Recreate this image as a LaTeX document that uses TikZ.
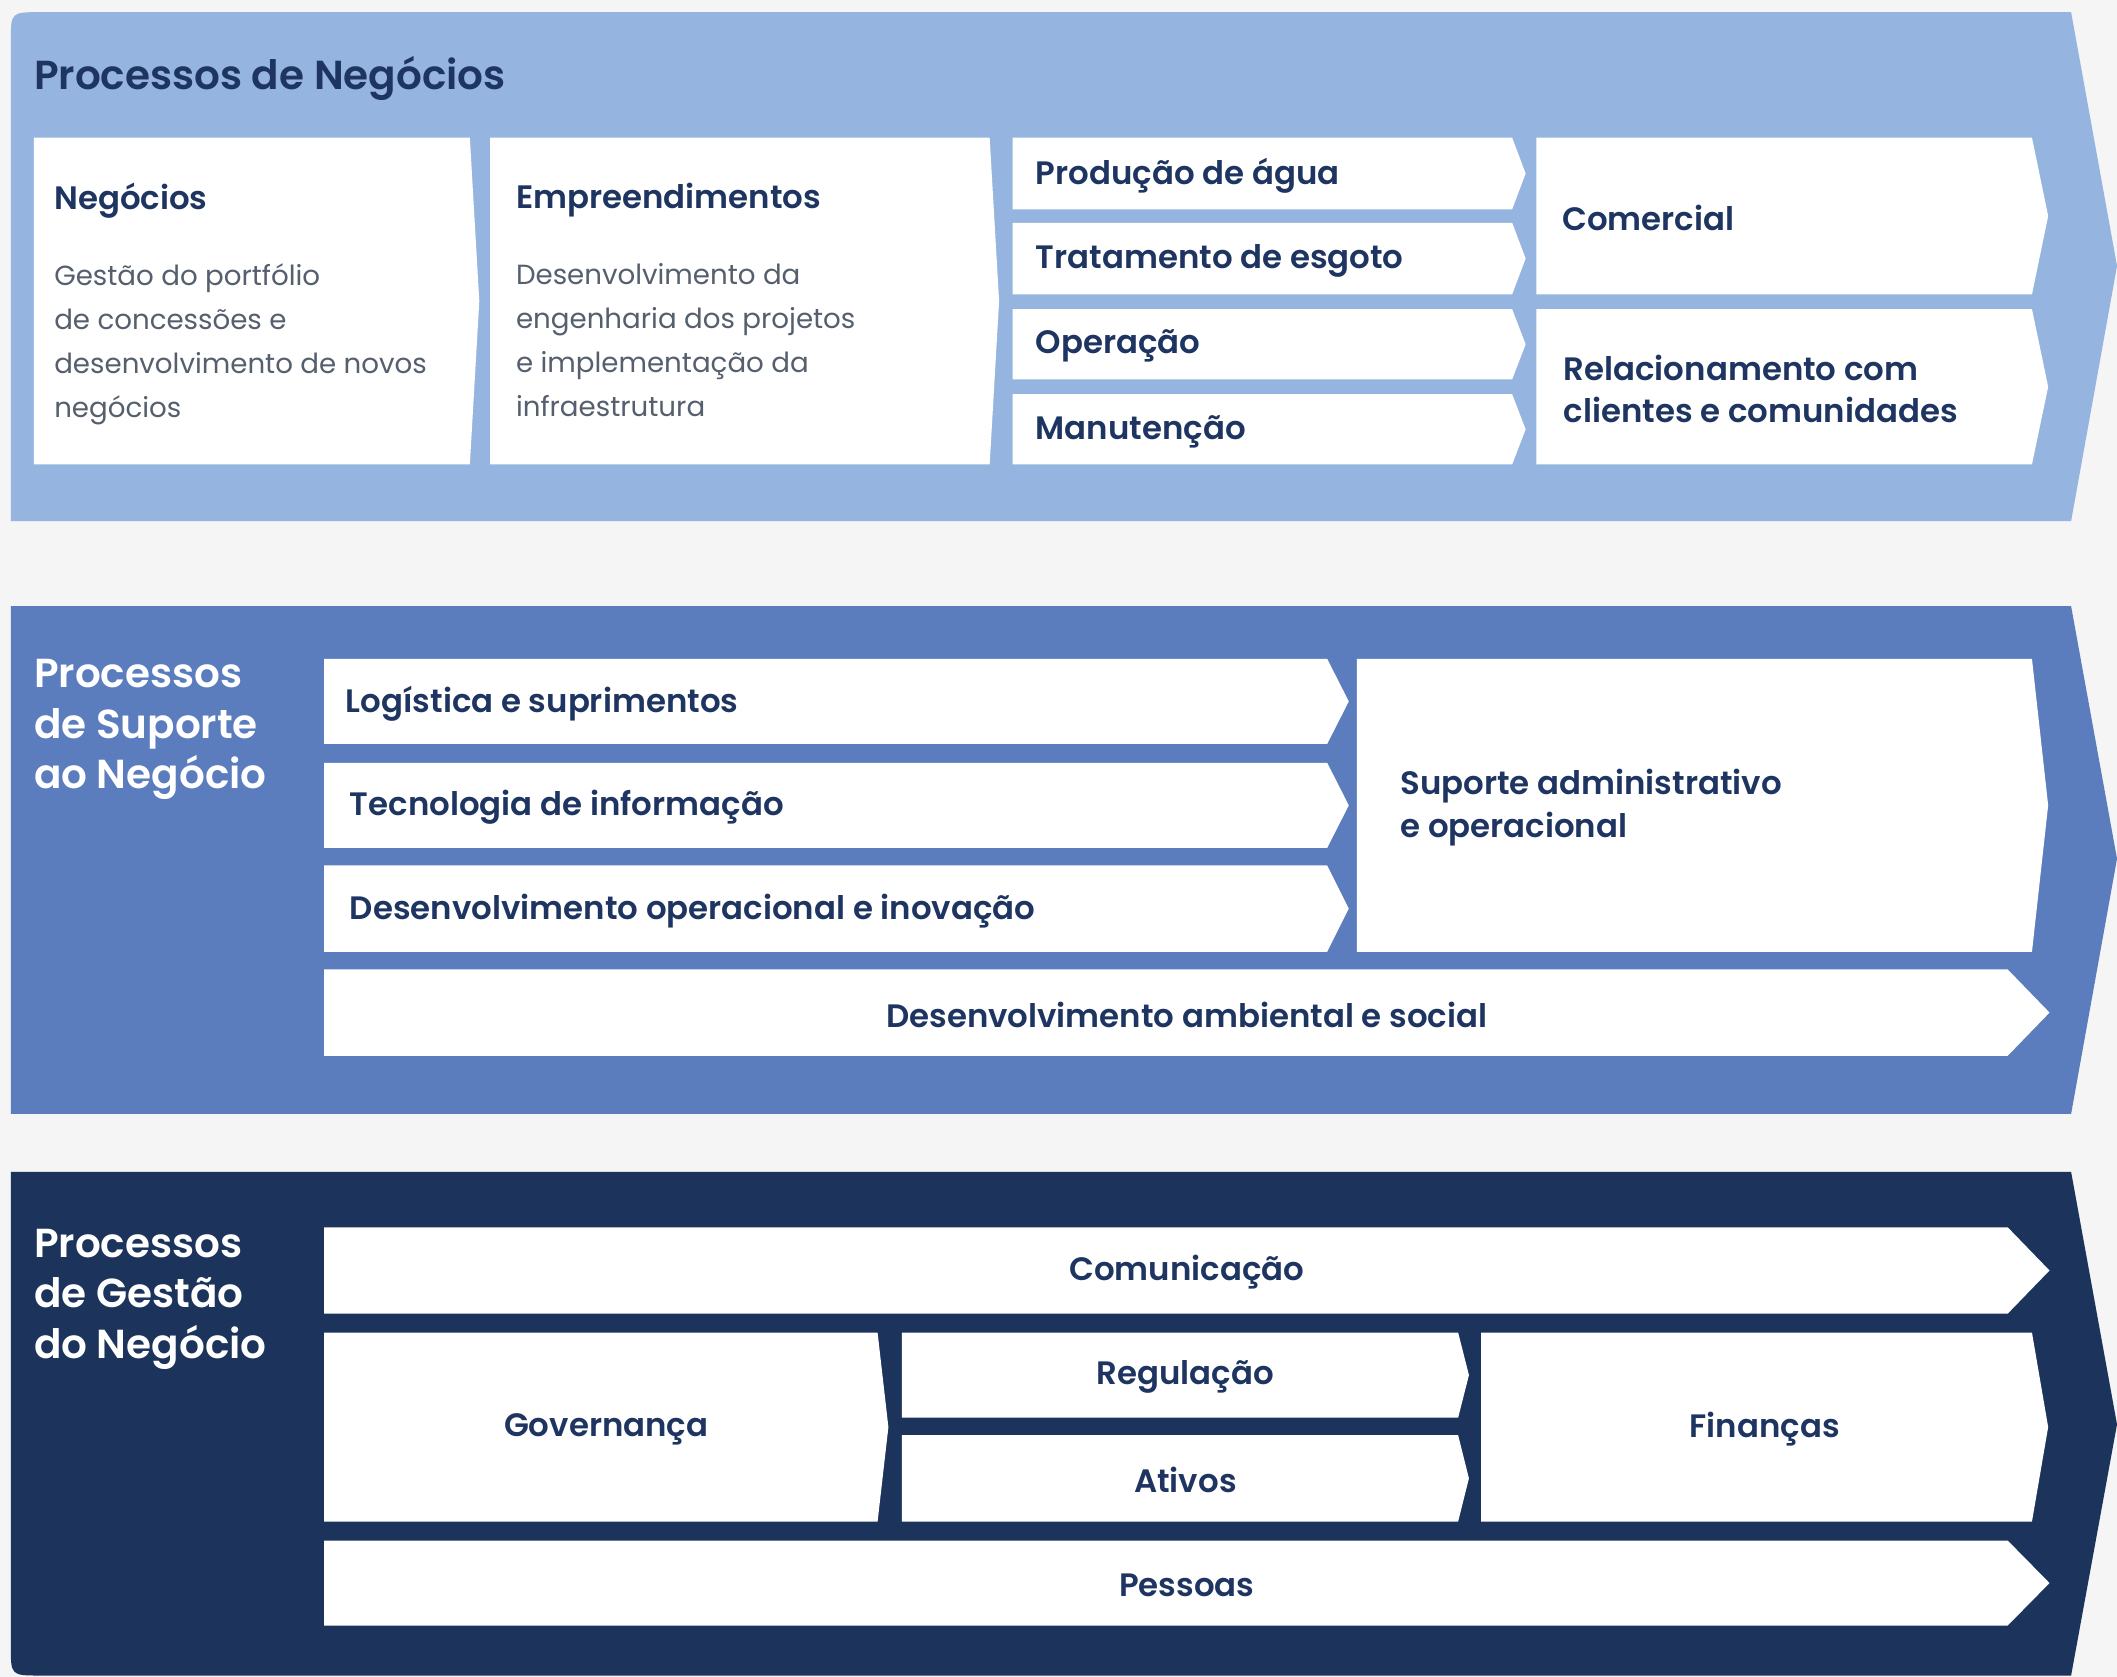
\documentclass[tikz,border=0pt]{standalone}
\usepackage{fontspec}
\setmainfont{Poppins}[BoldFont={Poppins SemiBold}]
\usetikzlibrary{positioning}

\definecolor{pageBg}{HTML}{F5F5F5}
\definecolor{bandA}{HTML}{95B5E0}
\definecolor{bandB}{HTML}{5B7DBE}
\definecolor{bandC}{HTML}{1C335B}
\definecolor{ink}{HTML}{1E3561}
\definecolor{greyTxt}{HTML}{555F6D}

% white process box with a pointed right side
% #1 name, #2 left, #3 top, #4 right, #5 bottom, #6 tip
\newcommand{\procbox}[6]{%
  \fill[white] (#2,#3) -- (#4,#3) -- (#6,{(#3+#5)/2}) -- (#4,#5) -- (#2,#5) -- cycle;
  \coordinate (#1-w) at (#2,{(#3+#5)/2});
  \coordinate (#1-c) at ({(#2+#6)/2},{(#3+#5)/2});
}

\begin{document}
\begin{tikzpicture}[x=1pt, y=-1pt, line join=round,
  boxtxt/.style={font=\bfseries\fontsize{24}{31.5}\selectfont, text=ink, inner sep=0pt, align=left, yshift=-1.5pt},
  desctxt/.style={font=\fontsize{20.5}{32.5}\selectfont, text=greyTxt, inner sep=0pt, align=left, anchor=north west},
  bandtxt/.style={font=\bfseries\fontsize{30}{37.5}\selectfont, text=white, inner sep=0pt, align=left, anchor=north west}]

% page
\fill[pageBg] (0,0) rectangle (1568,1242);
\useasboundingbox (0,0) rectangle (1568,1242);

% the three bands (arrow shaped, round corner at the outer left)
\fill[bandA] (8,386) -- (8,31) .. controls (8,9) .. (30,9) -- (1534,9) -- (1568,197) -- (1534,386) -- cycle;
\fill[bandB] (8,449) -- (1534,449) -- (1568,636) -- (1534,825) -- (8,825) -- cycle;
\fill[bandC] (8,868) -- (1534,868) -- (1568,1055) -- (1534,1241) -- (30,1241) .. controls (8,1241) .. (8,1219) -- cycle;

%%% Processos de Negocios
\node[bandtxt, text=ink, anchor=west] (titleA) at (25,58) {Processos de Negócios};

\procbox{neg}{25}{102}{348}{344}{355}
\procbox{emp}{363}{102}{733}{344}{740}
\node[boxtxt, anchor=west] (negT) at (40,147) {Negócios};
\node[desctxt] (negD) at (40,195) {Gestão do portfólio\\de concessões e\\desenvolvimento de novos\\negócios};
\node[boxtxt, anchor=west] (empT) at (382,147) {Empreendimentos};
\node[desctxt] (empD) at (382,195) {Desenvolvimento da\\engenharia dos projetos\\e implementação da\\infraestrutura};

\procbox{prod}{750}{102}{1120}{155}{1130}
\procbox{trat}{750}{165}{1120}{218}{1130}
\procbox{oper}{750}{229}{1120}{281}{1130}
\procbox{manu}{750}{292}{1120}{344}{1130}
\node[boxtxt, right=17pt of prod-w] (prodT) {Produção de água};
\node[boxtxt, right=17pt of trat-w] (tratT) {Tratamento de esgoto};
\node[boxtxt, right=17pt of oper-w] (operT) {Operação};
\node[boxtxt, right=17pt of manu-w] (manuT) {Manutenção};

\procbox{come}{1138}{102}{1505}{218}{1517}
\procbox{rela}{1138}{229}{1505}{344}{1517}
\node[boxtxt, right=19pt of come-w] (comeT) {Comercial};
\node[boxtxt, right=20pt of rela-w] (relaT) {Relacionamento com\\clientes e comunidades};

%%% Processos de Suporte ao Negocio
\node[bandtxt] (titleB) at (25,488) {Processos\\de Suporte\\ao Negócio};

\procbox{logi}{240}{488}{983}{551}{999}
\procbox{tecn}{240}{565}{983}{628}{999}
\procbox{deso}{240}{641}{983}{705}{999}
\procbox{supo}{1005}{488}{1505}{705}{1517}
\procbox{desa}{240}{718}{1487}{782}{1518}
\node[boxtxt, right=16pt of logi-w] (logiT) {Logística e suprimentos};
\node[boxtxt, right=19pt of tecn-w] (tecnT) {Tecnologia de informação};
\node[boxtxt, right=19pt of deso-w] (desoT) {Desenvolvimento operacional e inovação};
\node[boxtxt, right=32pt of supo-w] (supoT) {Suporte administrativo\\e operacional};
\node[boxtxt] (desaT) at (desa-c) {Desenvolvimento ambiental e social};

%%% Processos de Gestao do Negocio
\node[bandtxt] (titleC) at (25,910) {Processos\\de Gestão\\do Negócio};

\procbox{comu}{240}{909}{1487}{973}{1518}
\procbox{gove}{240}{987}{650}{1127}{658}
\procbox{regu}{668}{987}{1080}{1050}{1088}
\procbox{ativ}{668}{1063}{1080}{1127}{1088}
\procbox{fina}{1097}{987}{1505}{1127}{1517}
\procbox{pess}{240}{1141}{1487}{1204}{1518}
\node[boxtxt] (comuT) at (comu-c) {Comunicação};
\node[boxtxt] (goveT) at (gove-c) {Governança};
\node[boxtxt] (reguT) at (regu-c) {Regulação};
\node[boxtxt] (ativT) at (ativ-c) {Ativos};
\node[boxtxt] (finaT) at (fina-c) {Finanças};
\node[boxtxt] (pessT) at (pess-c) {Pessoas};

\end{tikzpicture}
\end{document}
